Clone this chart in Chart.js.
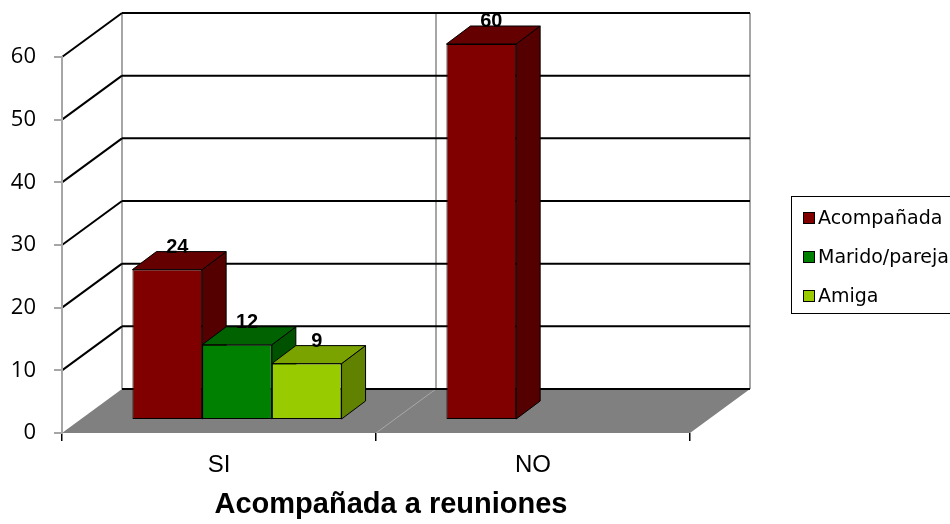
<!DOCTYPE html>
<html>
<head>
<meta charset="utf-8">
<script src="https://cdn.jsdelivr.net/npm/chart.js@4.4.0/dist/chart.umd.min.js"></script>
<style>
  html, body { margin: 0; padding: 0; background: #fff; overflow: hidden; }
</style>
</head>
<body>
<canvas id="myChart" width="950" height="524"></canvas>
<script>
const categories = ["SI", "NO"];
const seriesNames = ["Acompañada", "Marido/pareja", "Amiga"];
const acompanada = [24, 60];
const marido = [12, null];
const amiga = [9, null];
const yTicks = [0, 10, 20, 30, 40, 50, 60];
const axisTitle = "Acompañada a reuniones";

const frontColors = ["#800000", "#008000", "#99cc00"];
const topColors = ["#640000", "#006200", "#7aa300"];
const sideColors = ["#550000", "#005200", "#608200"];

// fake 3d: back wall depth, bar plane and bar depth
const wallDx = 60, wallDy = -44;
const barDx = 18, barDy = -13;
const depthX = 24, depthY = -18;

const walls = {
  id: "walls",
  beforeDraw(chart) {
    const ctx = chart.ctx;
    const a = chart.chartArea;
    const x = chart.scales.x;
    const y = chart.scales.y;
    const y0 = y.getPixelForValue(0);
    const yTop = y.getPixelForValue(y.max);
    const mid = (x.getPixelForValue(0) + x.getPixelForValue(1)) / 2;
    ctx.save();
    // floor
    ctx.fillStyle = "#808080";
    ctx.beginPath();
    ctx.moveTo(a.left, y0);
    ctx.lineTo(a.right, y0);
    ctx.lineTo(a.right + wallDx, y0 + wallDy);
    ctx.lineTo(a.left + wallDx, y0 + wallDy);
    ctx.closePath();
    ctx.fill();
    ctx.strokeStyle = "#a8a8a8";
    ctx.lineWidth = 1;
    ctx.beginPath();
    ctx.moveTo(mid, y0);
    ctx.lineTo(mid + wallDx, y0 + wallDy);
    ctx.stroke();
    // grey verticals on the back wall
    ctx.strokeStyle = "#a6a6a6";
    ctx.lineWidth = 2;
    ctx.beginPath();
    [a.left, mid, a.right].forEach(px => {
      ctx.moveTo(px + wallDx, yTop + wallDy);
      ctx.lineTo(px + wallDx, y0 + wallDy);
    });
    ctx.stroke();
    // gridlines, back wall and side wall
    ctx.strokeStyle = "#000";
    ctx.lineWidth = 2;
    ctx.beginPath();
    yTicks.forEach(v => {
      const py = y.getPixelForValue(v);
      ctx.moveTo(a.left + wallDx, py + wallDy);
      ctx.lineTo(a.right + wallDx, py + wallDy);
      if (v > 0) {
        ctx.moveTo(a.left, py);
        ctx.lineTo(a.left + wallDx, py + wallDy);
      }
    });
    ctx.stroke();
    ctx.restore();
  },
  afterDraw(chart) {
    const ctx = chart.ctx;
    const a = chart.chartArea;
    ctx.save();
    // axis title
    ctx.fillStyle = "#000";
    ctx.font = "bold 29px 'Liberation Sans', Arial";
    ctx.textAlign = "center";
    ctx.textBaseline = "alphabetic";
    ctx.fillText(axisTitle, (a.left + a.right) / 2 + wallDx / 4, 513);
    // legend
    ctx.strokeStyle = "#000";
    ctx.lineWidth = 1;
    ctx.strokeRect(791.5, 196.5, 200, 117);
    ctx.font = "19px 'DejaVu Sans'";
    ctx.textAlign = "left";
    ctx.textBaseline = "middle";
    seriesNames.forEach((name, i) => {
      const cy = 218 + i * 39;
      ctx.fillStyle = frontColors[i];
      ctx.fillRect(803, cy - 6, 12, 12);
      ctx.strokeRect(803.5, cy - 5.5, 11, 11);
      ctx.fillStyle = "#000";
      ctx.fillText(name, 818, cy + 1);
    });
    ctx.restore();
  }
};

const bars3d = {
  id: "bars3d",
  beforeDatasetsDraw(chart) {
    const ctx = chart.ctx;
    ctx.save();
    ctx.translate(barDx, barDy);
    ctx.strokeStyle = "#000";
    ctx.lineWidth = 1;
    chart.data.datasets.forEach((ds, i) => {
      chart.getDatasetMeta(i).data.forEach((bar, j) => {
        if (ds.data[j] == null) return;
        const p = bar.getProps(["x", "y", "base", "width"], true);
        const l = p.x - p.width / 2, r = p.x + p.width / 2;
        ctx.fillStyle = sideColors[i];
        ctx.beginPath();
        ctx.moveTo(r, p.y);
        ctx.lineTo(r + depthX, p.y + depthY);
        ctx.lineTo(r + depthX, p.base + depthY);
        ctx.lineTo(r, p.base);
        ctx.closePath();
        ctx.fill();
        ctx.stroke();
        ctx.fillStyle = topColors[i];
        ctx.beginPath();
        ctx.moveTo(l, p.y);
        ctx.lineTo(l + depthX, p.y + depthY);
        ctx.lineTo(r + depthX, p.y + depthY);
        ctx.lineTo(r, p.y);
        ctx.closePath();
        ctx.fill();
        ctx.stroke();
      });
    });
  },
  afterDatasetsDraw(chart) {
    const ctx = chart.ctx;
    ctx.fillStyle = "#000";
    ctx.font = "bold 20px 'Liberation Sans', Arial";
    ctx.textAlign = "center";
    ctx.textBaseline = "alphabetic";
    chart.data.datasets.forEach((ds, i) => {
      chart.getDatasetMeta(i).data.forEach((bar, j) => {
        if (ds.data[j] == null) return;
        const p = bar.getProps(["x", "y"], true);
        ctx.fillText(String(ds.data[j]), p.x + 10, p.y - 17);
      });
    });
    ctx.restore();
  }
};

const data = {
  labels: categories,
  datasets: [acompanada, marido, amiga].map((vals, i) => ({
    label: seriesNames[i],
    data: vals,
    backgroundColor: frontColors[i],
    borderColor: "#000",
    borderWidth: 1,
    borderSkipped: false,
    categoryPercentage: 0.666,
    barPercentage: 1.0,
    clip: false
  }))
};

const config = {
  type: "bar",
  data: data,
  plugins: [walls, bars3d],
  options: {
    responsive: false,
    animation: false,
    events: [],
    layout: { padding: { top: 57, right: 260, left: 0, bottom: 0 } },
    plugins: {
      legend: { display: false },
      tooltip: { enabled: false }
    },
    scales: {
      x: {
        ticks: { color: "#000", font: { family: "'Liberation Sans', Arial", size: 24 }, padding: 10 },
        grid: { drawOnChartArea: false, tickLength: 8, color: "#000", lineWidth: 1.5, offset: true },
        border: { display: false },
        afterFit(s) { s.height = 91; }
      },
      y: {
        min: 0,
        max: 60,
        afterBuildTicks(s) { s.ticks = yTicks.map(v => ({ value: v })); },
        ticks: { color: "#000", font: { family: "'Open Sans'", size: 22 }, padding: 18 },
        grid: { drawOnChartArea: false, tickLength: 8, color: "#a6a6a6", lineWidth: 2 },
        border: { display: true, color: "#a6a6a6", width: 2 },
        afterFit(s) { s.width = 62; }
      }
    }
  }
};

const myChart = new Chart(document.getElementById("myChart"), config);
</script>
</body>
</html>
